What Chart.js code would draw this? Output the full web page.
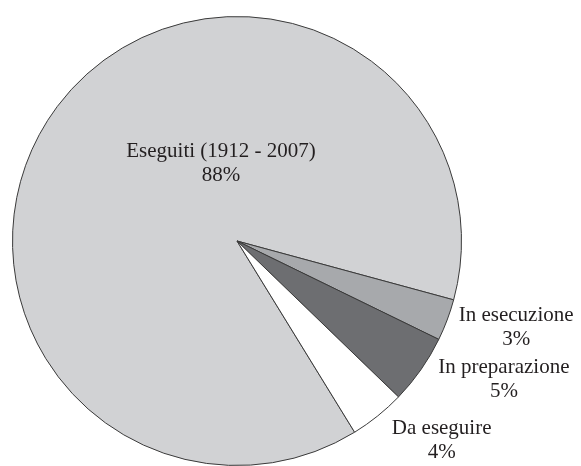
<!DOCTYPE html>
<html>
<head>
<meta charset="utf-8">
<script src="https://cdn.jsdelivr.net/npm/chart.js@4/dist/chart.umd.min.js"></script>
<style>
  html, body { margin: 0; padding: 0; background: #ffffff; }
  #wrap { width: 581px; height: 466px; }
</style>
</head>
<body>
<div id="wrap"><canvas id="c" width="581" height="466"></canvas></div>
<script>
// ---- data ----
const categories = ['Eseguiti (1912 - 2007)', 'In esecuzione', 'In preparazione', 'Da eseguire'];
const shares = [88, 3, 5, 4];

// ---- styles ----
const sliceColors = ['#d1d2d4', '#a7a9ac', '#6d6e71', '#ffffff'];
// label placement: 'inside' = relative to pie centre, 'edge' = relative to arc mid-point on the rim
const labelPlacement = [
  { mode: 'inside', dx: -16, dy: -84 },
  { mode: 'edge', dx: 69, dy: 1 },
  { mode: 'edge', dx: 83, dy: 3 },
  { mode: 'edge', dx: 64, dy: 18 }
];

const sliceLabels = {
  id: 'sliceLabels',
  afterDatasetsDraw(chart) {
    const ctx = chart.ctx;
    const meta = chart.getDatasetMeta(0);
    ctx.save();
    ctx.font = '21px "Liberation Serif", "Times New Roman", serif';
    ctx.fillStyle = '#231f20';
    ctx.textAlign = 'center';
    ctx.textBaseline = 'alphabetic';
    meta.data.forEach((arc, i) => {
      const p = arc.getProps(['x', 'y', 'startAngle', 'endAngle', 'outerRadius'], true);
      const pl = labelPlacement[i];
      let bx, by;
      if (pl.mode === 'inside') {
        bx = p.x + pl.dx; by = p.y + pl.dy;
      } else {
        const mid = (p.startAngle + p.endAngle) / 2;
        bx = p.x + Math.cos(mid) * p.outerRadius + pl.dx;
        by = p.y + Math.sin(mid) * p.outerRadius + pl.dy;
      }
      ctx.fillText(categories[i], bx, by);
      ctx.fillText(shares[i] + '%', bx, by + 24);
    });
    ctx.restore();
  }
};

new Chart(document.getElementById('c'), {
  type: 'pie',
  data: {
    labels: categories,
    datasets: [{
      data: shares,
      backgroundColor: sliceColors,
      borderColor: '#3a3a3a',
      borderWidth: 1
    }]
  },
  options: {
    responsive: false,
    animation: false,
    devicePixelRatio: 1,
    rotation: 148.4,
    layout: { padding: { top: 16, bottom: 0, left: 12, right: 119 } },
    plugins: {
      legend: { display: false },
      tooltip: { enabled: false }
    }
  },
  plugins: [sliceLabels]
});
</script>
</body>
</html>
